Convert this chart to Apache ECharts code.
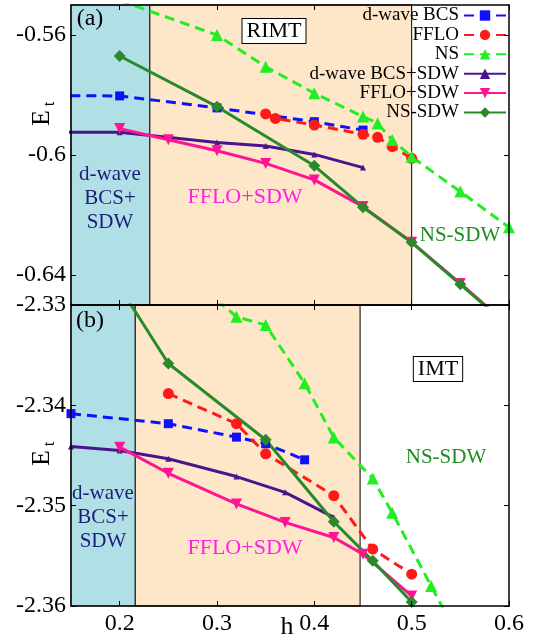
<!DOCTYPE html>
<html>
<head>
<meta charset="utf-8">
<script src="https://cdn.jsdelivr.net/npm/echarts@6.0.0/dist/echarts.min.js"></script>
<style>
  html, body { margin: 0; padding: 0; background: #fff; }
  #chart { width: 541px; height: 641px; }
</style>
</head>
<body>
<div id="chart"></div>
<script>
// ---- panel (a): RIMT ----
const hBcsA = [0.1, 0.2, 0.3, 0.4, 0.45];
const eBcsA = [-0.5802, -0.5803, -0.5843, -0.5889, -0.5917];
const hFfloA = [0.35, 0.36, 0.4, 0.45, 0.465, 0.48, 0.5];
const eFfloA = [-0.5863, -0.5878, -0.59, -0.5931, -0.5941, -0.5972, -0.6011];
const hNsA = [0.2, 0.3, 0.35, 0.4, 0.45, 0.465, 0.48, 0.5, 0.55, 0.6];
const eNsA = [-0.5485, -0.56, -0.5706, -0.5794, -0.5872, -0.5894, -0.595, -0.6006, -0.6122, -0.6241];
const hBcsSdwA = [0.1, 0.2, 0.3, 0.35, 0.4, 0.45];
const eBcsSdwA = [-0.5924, -0.5924, -0.5958, -0.597, -0.5998, -0.6042];
const hFfloSdwA = [0.2, 0.25, 0.3, 0.35, 0.4, 0.45, 0.5, 0.55, 0.6];
const eFfloSdwA = [-0.5912, -0.5949, -0.5986, -0.6028, -0.6083, -0.6172, -0.6291, -0.6428, -0.657];
const hNsSdwA = [0.2, 0.3, 0.4, 0.45, 0.5, 0.55, 0.6];
const eNsSdwA = [-0.567, -0.5839, -0.6036, -0.6174, -0.6291, -0.6431, -0.6571];

// ---- panel (b): IMT ----
const hBcsB = [0.15, 0.25, 0.32, 0.35, 0.39];
const eBcsB = [-2.34083, -2.34183, -2.34317, -2.34383, -2.34543];
const hFfloB = [0.25, 0.32, 0.35, 0.42, 0.46, 0.5];
const eFfloB = [-2.33883, -2.34183, -2.34483, -2.349, -2.35433, -2.35683];
const hNsB = [0.3, 0.32, 0.35, 0.39, 0.42, 0.46, 0.48, 0.52, 0.55];
const eNsB = [-2.3295, -2.33117, -2.332, -2.3378, -2.3432, -2.3473, -2.3507, -2.358, -2.3635];
const hBcsSdwB = [0.15, 0.2, 0.25, 0.32, 0.37, 0.42];
const eBcsSdwB = [-2.3441, -2.3445, -2.34533, -2.3471, -2.34867, -2.35117];
const hFfloSdwB = [0.2, 0.25, 0.32, 0.37, 0.42, 0.45, 0.5];
const eFfloSdwB = [-2.34417, -2.34677, -2.34983, -2.35167, -2.35317, -2.35483, -2.359];
const hNsSdwB = [0.2, 0.25, 0.35, 0.42, 0.46, 0.5];
const eNsSdwB = [-2.3282, -2.33583, -2.34343, -2.3516, -2.3555, -2.3596];

// phase boundaries in h
const boundsA = [0.15, 0.231, 0.5];
const boundsB = [0.15, 0.216, 0.447];

// tick labels
const hTicks = [0.2, 0.3, 0.4, 0.5, 0.6];
const eTicksA = [-0.64, -0.6, -0.56];
const eTicksB = [-2.36, -2.35, -2.34, -2.33];

const names = ['d-wave BCS', 'FFLO', 'NS', 'd-wave BCS+SDW', 'FFLO+SDW', 'NS-SDW'];
const FONT = '"Liberation Serif", "Times New Roman", serif';

// look of each curve
const look = {
  'd-wave BCS':     { color: '#1010ff', dash: [10, 6], symbol: 'rect', size: 9 },
  'FFLO':           { color: '#ff1a1a', dash: [10, 6], symbol: 'circle', size: 11 },
  'NS':             { color: '#22ee22', dash: [10, 6], symbol: 'triangle', size: 12 },
  'd-wave BCS+SDW': { color: '#4b148c', dash: 'solid', symbol: 'triangle', size: 6 },
  'FFLO+SDW':       { color: '#ff1493', dash: 'solid', symbol: 'triangle', size: 11, rotate: 180 },
  'NS-SDW':         { color: '#2a8a2a', dash: 'solid', symbol: 'diamond', size: 12 }
};

const pairs = (h, e) => h.map((x, i) => [x, e[i]]);

function line(name, h, e, panel) {
  const s = look[name];
  return {
    name: name,
    type: 'line',
    xAxisIndex: panel * 2,
    yAxisIndex: panel * 2,
    data: pairs(h, e),
    symbol: s.symbol,
    symbolSize: s.size,
    symbolRotate: s.rotate || 0,
    showAllSymbol: true,
    clip: true,
    z: 3,
    lineStyle: { color: s.color, width: 3, type: s.dash },
    itemStyle: { color: s.color }
  };
}

function shading(panel, b) {
  return {
    type: 'line',
    xAxisIndex: panel * 2,
    yAxisIndex: panel * 2,
    data: [],
    silent: true,
    z: 1,
    markArea: {
      silent: true,
      label: { show: false },
      data: [
        [{ xAxis: b[0], itemStyle: { color: '#b0e0e6', borderColor: '#555', borderWidth: 1 } }, { xAxis: b[1] }],
        [{ xAxis: b[1], itemStyle: { color: '#fee7c9', borderColor: '#000', borderWidth: 1 } }, { xAxis: b[2] }]
      ]
    }
  };
}

const axisLine = { show: true, onZero: false, lineStyle: { color: '#000', width: 1.5 } };
const fmt = (v) => String(Number(v.toFixed(2)));
const tickFont = { fontFamily: FONT, fontSize: 24, color: '#000' };

function xAxes(grid, labels) {
  return [
    {
      type: 'value', gridIndex: grid, min: 0.15, max: 0.6, position: 'bottom', z: 10,
      axisLine: axisLine, splitLine: { show: false },
      axisTick: { inside: true, length: 5, customValues: hTicks, lineStyle: { color: '#000' } },
      axisLabel: Object.assign({ show: labels, customValues: hTicks, formatter: fmt, margin: 6 }, tickFont)
    },
    {
      type: 'value', gridIndex: grid, min: 0.15, max: 0.6, position: 'top', z: 10,
      axisLine: axisLine, splitLine: { show: false },
      axisTick: { inside: true, length: 5, customValues: hTicks, lineStyle: { color: '#000' } },
      axisLabel: { show: false }
    }
  ];
}

function yAxes(grid, min, max, ticks) {
  return [
    {
      type: 'value', gridIndex: grid, min: min, max: max, position: 'left', z: 10,
      axisLine: axisLine, splitLine: { show: false },
      axisTick: { inside: true, length: 5, customValues: ticks, lineStyle: { color: '#000' } },
      axisLabel: Object.assign({ customValues: ticks, formatter: fmt, margin: 5 }, tickFont)
    },
    {
      type: 'value', gridIndex: grid, min: min, max: max, position: 'right', z: 10,
      axisLine: axisLine, splitLine: { show: false },
      axisTick: { inside: true, length: 5, customValues: ticks, lineStyle: { color: '#000' } },
      axisLabel: { show: false }
    }
  ];
}

function txt(text, x, y, size, color, extra) {
  return {
    type: 'text', x: x, y: y, z: 20,
    style: Object.assign({ text: text, fontFamily: FONT, fontSize: size, fill: color, align: 'center', verticalAlign: 'middle' }, extra || {})
  };
}

function boxed(text, x, y) {
  return txt(text, x, y, 22, '#000', {
    backgroundColor: '#fff', borderColor: '#000', borderWidth: 1, padding: [2, 4, 0, 4]
  });
}

// rotated y label E_t
function yLabel(y) {
  return [
    Object.assign(txt('E', 42, y, 26, '#000'), { rotation: Math.PI / 2 }),
    Object.assign(txt('t', 50, y - 14, 17, '#000'), { rotation: Math.PI / 2 })
  ];
}

const chart = echarts.init(document.getElementById('chart'));
chart.setOption({
  animation: false,
  backgroundColor: '#fff',
  textStyle: { fontFamily: FONT },
  grid: [
    { left: 71, top: 5, width: 438, height: 300 },
    { left: 71, top: 305, width: 438, height: 301 }
  ],
  xAxis: [...xAxes(0, false), ...xAxes(1, true)],
  yAxis: [...yAxes(0, -0.65, -0.55, eTicksA), ...yAxes(1, -2.36, -2.33, eTicksB)],
  legend: {
    data: names,
    orient: 'vertical',
    right: 34,
    top: 6,
    padding: 0,
    align: 'right',
    itemWidth: 42,
    itemHeight: 13,
    itemGap: 0.4,
    textStyle: { fontFamily: FONT, fontSize: 19, color: '#000', lineHeight: 19 }
  },
  graphic: [
    txt('(a)', 90, 19, 24, '#000'),
    txt('(b)', 90, 321, 24, '#000'),
    boxed('RIMT', 274, 31),
    boxed('IMT', 438, 369),
    txt('d-wave\nBCS+\nSDW', 110, 198, 21, '#1c1c7a', { lineHeight: 24 }),
    txt('d-wave\nBCS+\nSDW', 103, 517, 21, '#1c1c7a', { lineHeight: 24 }),
    txt('FFLO+SDW', 245, 197, 22, '#ff22dd'),
    txt('FFLO+SDW', 245, 548, 22, '#ff22dd'),
    txt('NS-SDW', 460, 235, 21, '#228b22'),
    txt('NS-SDW', 446, 457, 21, '#228b22'),
    ...yLabel(118),
    ...yLabel(458),
    txt('h', 287, 627, 26, '#000')
  ],
  series: [
    shading(0, boundsA),
    shading(1, boundsB),
    line('d-wave BCS', hBcsA, eBcsA, 0),
    line('FFLO', hFfloA, eFfloA, 0),
    line('NS', hNsA, eNsA, 0),
    line('d-wave BCS+SDW', hBcsSdwA, eBcsSdwA, 0),
    line('FFLO+SDW', hFfloSdwA, eFfloSdwA, 0),
    line('NS-SDW', hNsSdwA, eNsSdwA, 0),
    line('d-wave BCS', hBcsB, eBcsB, 1),
    line('FFLO', hFfloB, eFfloB, 1),
    line('NS', hNsB, eNsB, 1),
    line('d-wave BCS+SDW', hBcsSdwB, eBcsSdwB, 1),
    line('FFLO+SDW', hFfloSdwB, eFfloSdwB, 1),
    line('NS-SDW', hNsSdwB, eNsSdwB, 1)
  ]
});
</script>
</body>
</html>
